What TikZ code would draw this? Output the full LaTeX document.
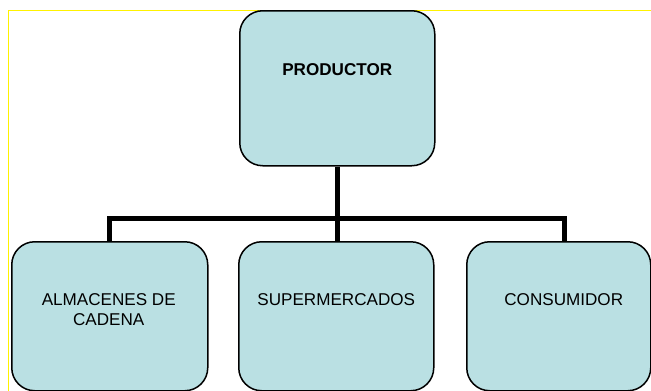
\documentclass[tikz,border=0pt]{standalone}
\usepackage{fontspec}
\setmainfont{Liberation Sans}
\usetikzlibrary{positioning}
\definecolor{celeste}{RGB}{186,224,227}

\begin{document}
\begin{tikzpicture}[x=1pt,y=-1pt,
  caja/.style={draw,line width=1.5pt,fill=celeste,rounded corners=23pt,anchor=north west,minimum height=149pt},
  texto/.style={align=center,font=\fontsize{17.1}{20}\selectfont,inner sep=0pt},
  conector/.style={line width=5pt}]
\useasboundingbox (0,0) rectangle (651,391);
\draw[yellow,line width=1pt] (8.5,391) -- (8.5,10.5) -- (651,10.5);

\node[caja,minimum width=195pt,minimum height=155pt] at (239,10) (prod){};
\node[caja,minimum width=196pt] at (11,241) (alm){};
\node[caja,minimum width=195pt] at (238,241) (super){};
\node[caja,minimum width=184pt] at (466,241) (cons){};

\node[texto,font=\fontsize{17.1}{20}\bfseries] at ([yshift=-60pt]prod.north) (tprod){PRODUCTOR};
\node[texto] at ([yshift=-69pt,xshift=-1pt]alm.north) (talm){ALMACENES DE\\CADENA};
\node[texto] at ([yshift=-59pt]super.north) (tsuper){SUPERMERCADOS};
\node[texto] at ([yshift=-59pt,xshift=5pt]cons.north) (tcons){CONSUMIDOR};

\coordinate (barra) at ([yshift=-52pt]prod.south);
\coordinate (bajada) at ([xshift=6pt]cons.north);
\draw[conector] (prod.south) -- (prod.south |- super.north);
\draw[conector] (alm.north) -- (alm.north |- barra) -- (bajada |- barra) -- (bajada);

\end{tikzpicture}
\end{document}
